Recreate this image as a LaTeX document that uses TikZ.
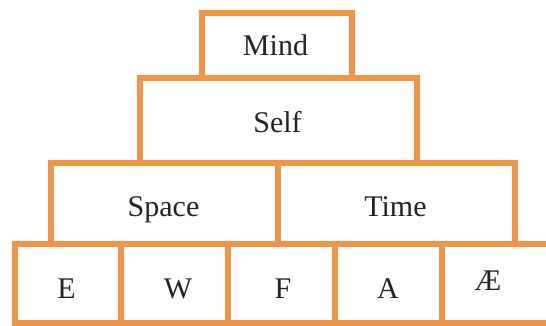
\documentclass[tikz,border=0pt]{standalone}
\usepackage{fontspec}
\setmainfont{Liberation Serif}
\definecolor{boxorange}{RGB}{240,148,72}
\definecolor{txtgray}{RGB}{35,35,35}
\tikzset{
  brick/.style={draw=boxorange, line width=5.5pt, rectangle, inner sep=0pt, fill=none},
  word/.style={anchor=base, inner sep=0pt, text=txtgray, font=\fontsize{30}{33}\selectfont},
}
\begin{document}
\begin{tikzpicture}[x=1pt,y=-1pt]
\useasboundingbox (0,0) rectangle (546,325);
% boxes
\node[brick, minimum width=150pt, minimum height=65pt] (mind) at (277,45.5) {};
\node[brick, minimum width=277pt, minimum height=85pt] (self) at (278.5,120.5) {};
\node[brick, minimum width=227pt, minimum height=81pt] (space) at (164.5,203.5) {};
\node[brick, minimum width=237pt, minimum height=81pt] (time) at (396.5,203.5) {};
\node[brick, minimum width=106pt, minimum height=79pt] (e) at (68,283.5) {};
\node[brick, minimum width=107pt, minimum height=79pt] (w) at (174.5,283.5) {};
\node[brick, minimum width=107pt, minimum height=79pt] (f) at (281.5,283.5) {};
\node[brick, minimum width=107pt, minimum height=79pt] (a) at (388.5,283.5) {};
\node[brick, minimum width=110pt, minimum height=79pt] (ae) at (497,283.5) {};
% labels
\node[word] (tmind) at (275.5,55) {Mind};
\node[word] (tself) at (277.5,132) {Self};
\node[word] (tspace) at (163.5,216) {Space};
\node[word] (ttime) at (395.5,216) {Time};
\node[word] (te) at (66.5,298) {E};
\node[word] (tw) at (178,298) {W};
\node[word] (tf) at (283,298) {F};
\node[word] (ta) at (388,298) {A};
\node[word] (tae) at (488,290) {Æ};
\end{tikzpicture}
\end{document}
